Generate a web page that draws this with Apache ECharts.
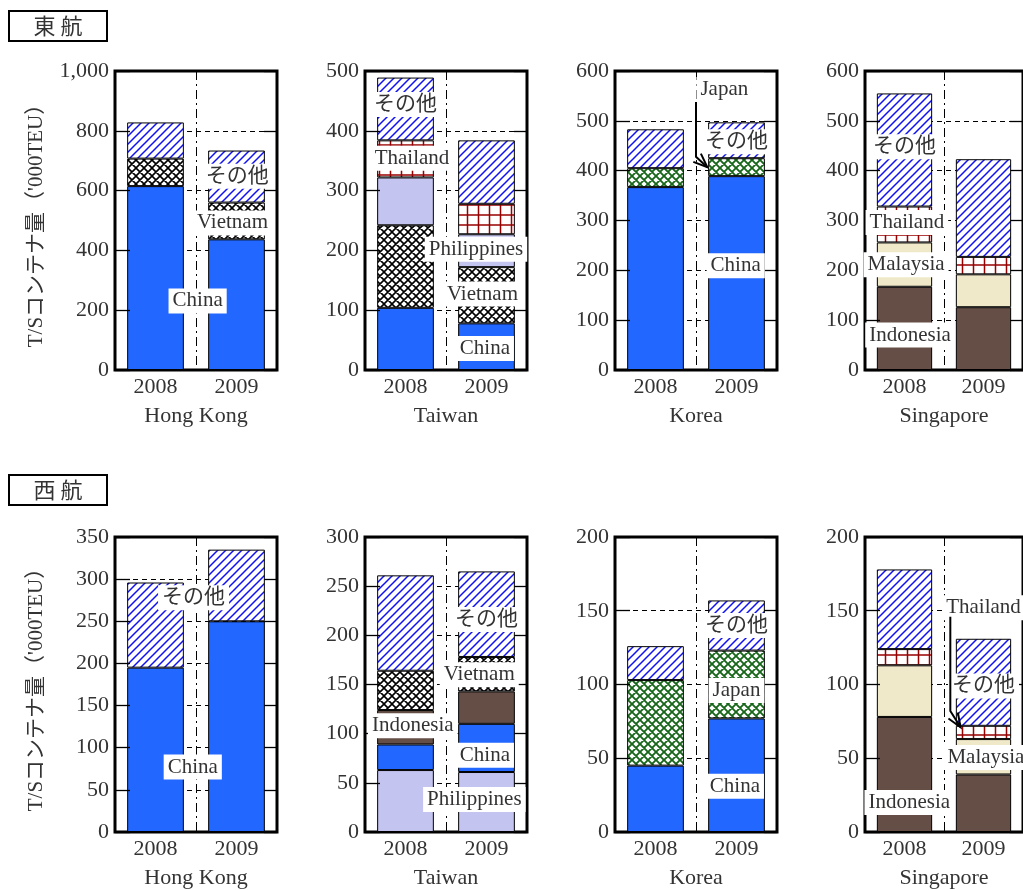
<!DOCTYPE html>
<html>
<head>
<meta charset="utf-8">
<script src="https://cdn.jsdelivr.net/npm/echarts@6/dist/echarts.min.js"></script>
<style>
html,body{margin:0;padding:0;background:#fff;}
#chart{width:1023px;height:890px;}
</style>
</head>
<body>
<div id="chart"></div>
<script>
// ---------- categories ----------
const years = ['2008', '2009'];
const ports = ['Hong Kong', 'Taiwan', 'Korea', 'Singapore'];
const sectionTitles = ['東 航', '西 航'];
const yAxisTitle = "T/Sコンテナ量（'000TEU）";

// ---------- 東航 (eastbound) values, '000TEU ----------
const eHK_China = [615, 437];
const eHK_Vietnam = [92, 123];
const eHK_Other = [121, 174];

const eTW_China = [104, 78];
const eTW_Vietnam = [138, 94];
const eTW_Philippines = [80, 55];
const eTW_Thailand = [62, 51];
const eTW_Other = [105, 106];

const eKR_China = [367, 389];
const eKR_Japan = [38, 36];
const eKR_Other = [78, 72];

const eSG_Indonesia = [167, 126];
const eSG_Malaysia = [89, 66];
const eSG_Thailand = [72, 35];
const eSG_Other = [227, 196];

// ---------- 西航 (westbound) values ----------
const wHK_China = [195, 250];
const wHK_Other = [101, 85];

const wTW_Philippines = [63, 61];
const wTW_China = [26, 49];
const wTW_Indonesia = [35, 33];
const wTW_Vietnam = [40, 35];
const wTW_Other = [97, 87];

const wKR_China = [45, 77];
const wKR_Japan = [58, 46];
const wKR_Other = [23, 34];

const wSG_Indonesia = [78, 39];
const wSG_Malaysia = [35, 24];
const wSG_Thailand = [11, 9];
const wSG_Other = [54, 59];

// ---------- axis maxima / tick steps ----------
const eAxisMax = [1000, 500, 600, 600];
const eAxisStep = [200, 100, 100, 100];
const wAxisMax = [350, 300, 200, 200];
const wAxisStep = [50, 50, 50, 50];

// ---------- label placements (x in category units: 0=2008, 1=2009; v in axis value) ----------
const eHK_notes = [{t:'China',x:0.52,v:231},{t:'Vietnam',x:0.95,v:492},{t:'その他',x:1.01,v:648}];
const eTW_notes = [{t:'その他',x:0,v:444},{t:'Thailand',x:0.08,v:354},{t:'Philippines',x:0.87,v:202},{t:'Vietnam',x:0.95,v:127},{t:'China',x:0.98,v:36}];
const eKR_notes = [{t:'Japan',x:0.85,v:563},{t:'その他',x:1.0,v:458},{t:'China',x:0.99,v:209}];
const eSG_notes = [{t:'その他',x:0,v:448},{t:'Thailand',x:0.03,v:296},{t:'Malaysia',x:0.02,v:211},{t:'Indonesia',x:0.07,v:70}];
const wHK_notes = [{t:'その他',x:0.47,v:278},{t:'China',x:0.46,v:77}];
const wTW_notes = [{t:'その他',x:1.0,v:216},{t:'Vietnam',x:0.91,v:160},{t:'Indonesia',x:0.09,v:108},{t:'China',x:0.98,v:78},{t:'Philippines',x:0.85,v:33}];
const wKR_notes = [{t:'その他',x:1.0,v:140},{t:'Japan',x:1.0,v:96},{t:'China',x:0.98,v:31}];
const wSG_notes = [{t:'Thailand',x:1.0,v:152},{t:'その他',x:1.0,v:99},{t:'Malaysia',x:1.03,v:50.5},{t:'Indonesia',x:0.06,v:20}];
const eKR_arrow = [[0.5, 538], [0.5, 428], [0.64, 407]];
const wSG_arrow = [[0.58, 146], [0.58, 82], [0.71, 71]];

// ---------- fills ----------
function makePattern(kind, color, w, h, lw) {
  const c = document.createElement('canvas');
  c.width = w; c.height = h;
  const g = c.getContext('2d');
  g.fillStyle = '#fff'; g.fillRect(0, 0, w, h);
  g.strokeStyle = color; g.lineWidth = lw; g.lineCap = 'square';
  g.beginPath();
  if (kind === 'diag' || kind === 'cross') {
    g.moveTo(0, h); g.lineTo(w, 0);
    g.moveTo(-w / 2, h / 2); g.lineTo(w / 2, -h / 2);
    g.moveTo(w / 2, h * 1.5); g.lineTo(w * 1.5, h / 2);
  }
  if (kind === 'cross') {
    g.moveTo(0, 0); g.lineTo(w, h);
    g.moveTo(-w / 2, h / 2); g.lineTo(w / 2, h * 1.5);
    g.moveTo(w / 2, -h / 2); g.lineTo(w * 1.5, h / 2);
  }
  if (kind === 'grid') {
    g.moveTo(w / 2, 0); g.lineTo(w / 2, h);
    g.moveTo(0, h / 2); g.lineTo(w, h / 2);
  }
  g.stroke();
  return { image: c, repeat: 'repeat' };
}
const fills = {
  'China': '#2267ff',
  'Philippines': '#c4c4f0',
  'Indonesia': '#654e46',
  'Malaysia': '#efe8c9',
  'その他': makePattern('diag', '#1212f0', 8, 8, 1.5),
  'Vietnam': makePattern('cross', '#000000', 8, 8, 1.6),
  'Japan': makePattern('cross', '#17661a', 8, 8, 1.9),
  'Thailand': makePattern('grid', '#990000', 11, 10, 1.5)
};

// ---------- panels ----------
const panels = [
  {row:0, col:0, stack:[['China',eHK_China],['Vietnam',eHK_Vietnam],['その他',eHK_Other]], notes:eHK_notes},
  {row:0, col:1, stack:[['China',eTW_China],['Vietnam',eTW_Vietnam],['Philippines',eTW_Philippines],['Thailand',eTW_Thailand],['その他',eTW_Other]], notes:eTW_notes},
  {row:0, col:2, stack:[['China',eKR_China],['Japan',eKR_Japan],['その他',eKR_Other]], notes:eKR_notes, arrow:eKR_arrow},
  {row:0, col:3, stack:[['Indonesia',eSG_Indonesia],['Malaysia',eSG_Malaysia],['Thailand',eSG_Thailand],['その他',eSG_Other]], notes:eSG_notes},
  {row:1, col:0, stack:[['China',wHK_China],['その他',wHK_Other]], notes:wHK_notes},
  {row:1, col:1, stack:[['Philippines',wTW_Philippines],['China',wTW_China],['Indonesia',wTW_Indonesia],['Vietnam',wTW_Vietnam],['その他',wTW_Other]], notes:wTW_notes},
  {row:1, col:2, stack:[['China',wKR_China],['Japan',wKR_Japan],['その他',wKR_Other]], notes:wKR_notes},
  {row:1, col:3, stack:[['Indonesia',wSG_Indonesia],['Malaysia',wSG_Malaysia],['Thailand',wSG_Thailand],['その他',wSG_Other]], notes:wSG_notes, arrow:wSG_arrow}
];

const FONT = "'Liberation Serif', 'Noto Sans CJK JP'";
const TXT = '#333';
const grid = [], xAxis = [], yAxis = [], series = [];

function fmt(v) { return String(v).replace(/\B(?=(\d{3})+(?!\d))/g, ','); }

panels.forEach((p, i) => {
  const max = p.row === 0 ? eAxisMax[p.col] : wAxisMax[p.col];
  const step = p.row === 0 ? eAxisStep[p.col] : wAxisStep[p.col];
  grid.push({
    left: 115 + 250 * p.col, top: p.row === 0 ? 71 : 537, width: 162, height: p.row === 0 ? 299 : 298,
    show: true, borderColor: '#000', borderWidth: 3, backgroundColor: 'transparent'
  });
  xAxis.push({
    type: 'category', gridIndex: i, data: years,
    axisLine: { show: false }, axisTick: { show: false },
    axisLabel: { color: TXT, fontSize: 22, fontFamily: FONT, margin: 6 },
    splitLine: { show: true, lineStyle: { color: '#000', width: 1, type: [9, 4, 2, 4] } },
    name: ports[p.col], nameLocation: 'middle', nameGap: 35,
    nameTextStyle: { color: TXT, fontSize: 22, fontFamily: FONT }
  });
  // left axis: labels + ticks drawn above bars
  yAxis.push({
    type: 'value', gridIndex: i, position: 'left', min: 0, max: max, interval: step, z: 5,
    axisLine: { show: false },
    axisTick: { show: true, inside: true, length: 15, lineStyle: { color: '#000', width: 1.3 } },
    axisLabel: { color: TXT, fontSize: 22, fontFamily: FONT, margin: 6, formatter: fmt },
    splitLine: { show: false },
    name: p.col === 0 ? yAxisTitle : '', nameLocation: 'middle', nameGap: 68, nameRotate: 90,
    nameTextStyle: { color: TXT, fontSize: 21, fontFamily: FONT }
  });
  // right axis: dashed grid lines behind bars + inner ticks
  yAxis.push({
    type: 'value', gridIndex: i, position: 'right', min: 0, max: max, interval: step, z: 0,
    axisLine: { show: false },
    axisTick: { show: true, inside: true, length: 13, lineStyle: { color: '#000', width: 1.3 } },
    axisLabel: { show: false },
    splitLine: { show: true, lineStyle: { color: '#000', width: 1, type: [5, 4] } }
  });
  p.stack.forEach(([name, vals]) => {
    series.push({
      type: 'bar', name: name, stack: 's' + i, xAxisIndex: i, yAxisIndex: 2 * i,
      barWidth: '70%', z: 2, silent: true,
      itemStyle: { color: fills[name], borderColor: '#000', borderWidth: 1 },
      data: vals
    });
  });
  const notes = p.notes;
  series.push({
    type: 'custom', xAxisIndex: i, yAxisIndex: 2 * i, z: 10, silent: true,
    data: notes.map(a => [0, a.v]),
    renderItem: (params, api) => {
      const a = notes[params.dataIndex];
      const p0 = api.coord([0, a.v]), p1 = api.coord([1, a.v]);
      return {
        type: 'text', x: p0[0] + (p1[0] - p0[0]) * a.x, y: p0[1],
        style: { text: a.t, align: 'center', verticalAlign: 'middle', fill: TXT,
          fontSize: 21, fontFamily: FONT, backgroundColor: '#fff', padding: [2, 4] }
      };
    }
  });
  if (p.arrow) {
    const arrow = p.arrow;
    series.push({
      type: 'custom', xAxisIndex: i, yAxisIndex: 2 * i, z: 11, silent: true,
      data: [[0, arrow[arrow.length - 1][1]]],
      renderItem: (params, api) => {
        const pts = arrow.map(([x, v]) => {
          const p0 = api.coord([0, v]), p1 = api.coord([1, v]);
          return [p0[0] + (p1[0] - p0[0]) * x, p0[1]];
        });
        const tip = pts[pts.length - 1], prev = pts[pts.length - 2];
        const ang = Math.atan2(tip[1] - prev[1], tip[0] - prev[0]);
        const L = 15, s = 0.38;
        const h1 = [tip[0] - L * Math.cos(ang - s), tip[1] - L * Math.sin(ang - s)];
        const h2 = [tip[0] - L * Math.cos(ang + s), tip[1] - L * Math.sin(ang + s)];
        return {
          type: 'group', children: [
            { type: 'polyline', shape: { points: pts }, style: { stroke: '#000', lineWidth: 2, fill: null } },
            { type: 'polyline', shape: { points: [h1, tip, h2] }, style: { stroke: '#000', lineWidth: 2, fill: null } }
          ]
        };
      }
    });
  }
});

const graphic = sectionTitles.map((t, r) => ({
  type: 'group', left: 8, top: r === 0 ? 10 : 474,
  children: [
    { type: 'rect', shape: { x: 0, y: 0, width: 98, height: 30 }, style: { fill: '#fff', stroke: '#000', lineWidth: 2 } },
    { type: 'text', x: 49, y: 15, style: { text: t, align: 'center', verticalAlign: 'middle', fill: TXT, fontSize: 22, fontFamily: "'Noto Sans CJK JP'" } }
  ]
}));

const chart = echarts.init(document.getElementById('chart'), null, { renderer: 'canvas' });
chart.setOption({
  animation: false,
  backgroundColor: '#fff',
  grid: grid, xAxis: xAxis, yAxis: yAxis, series: series, graphic: graphic
});
</script>
</body>
</html>
